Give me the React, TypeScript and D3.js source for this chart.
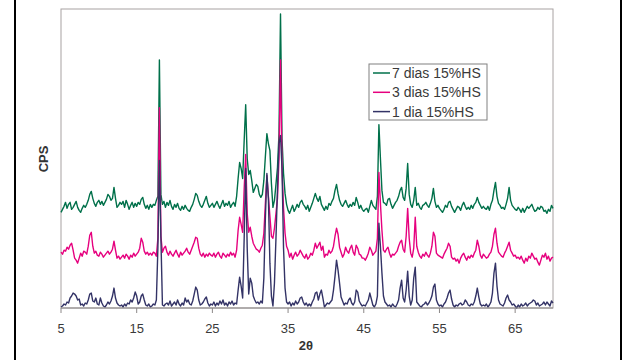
import React from "react";
import * as d3 from "d3";

// 2θ sampling grid (degrees), 0.2° step from 5 to 70
const angles: number[] = d3.range(326).map((i) => +(5 + i * 0.2).toFixed(1));

const ticks2Theta = [5, 15, 25, 35, 45, 55, 65];

const seriesNames = ["7 dias 15%HS", "3 dias 15%HS", "1 dia 15%HS"];

// intensities (CPS, offset traces), one row per 2°
const cps7dias: number[] = [
  96, 99, 102, 106, 100, 104, 106, 99, 101, 104,
  107, 101, 98, 96, 100, 103, 101, 104, 108, 114,
  117, 110, 105, 102, 106, 108, 104, 107, 103, 106,
  109, 114, 112, 108, 110, 121, 110, 101, 103, 106,
  104, 107, 101, 108, 104, 99, 103, 106, 101, 105,
  102, 106, 104, 109, 111, 104, 100, 103, 99, 104,
  101, 104, 103, 108, 112, 249, 114, 104, 107, 101,
  106, 103, 108, 102, 99, 104, 101, 105, 100, 98,
  102, 99, 103, 100, 98, 97, 101, 104, 109, 115,
  113, 107, 103, 101, 104, 108, 112, 105, 101, 103,
  105, 101, 104, 107, 103, 100, 104, 108, 102, 105,
  103, 107, 101, 104, 106, 102, 112, 130, 146, 140,
  130, 168, 204, 150, 134, 138, 128, 116, 120, 124,
  122, 114, 111, 114, 128, 152, 175, 165, 158, 125,
  101, 108, 124, 141, 175, 295, 170, 135, 115, 104,
  98, 95, 99, 103, 97, 100, 104, 101, 106, 108,
  104, 102, 99, 103, 97, 101, 105, 110, 115, 110,
  107, 112, 104, 101, 98, 102, 99, 105, 103, 107,
  110, 118, 124, 115, 108, 104, 102, 105, 108, 104,
  101, 104, 102, 106, 103, 111, 106, 100, 103, 99,
  97, 99, 100, 96, 102, 108, 103, 101, 99, 112,
  184, 150, 118, 106, 105, 103, 109, 110, 104, 100,
  103, 106, 108, 112, 118, 121, 111, 108, 120, 145,
  114, 104, 101, 108, 121, 103, 105, 101, 99, 103,
  104, 106, 103, 101, 105, 110, 120, 107, 101, 103,
  100, 98, 96, 99, 103, 101, 106, 107, 102, 99,
  96, 99, 102, 101, 98, 103, 106, 102, 99, 101,
  99, 103, 100, 104, 106, 111, 106, 103, 100, 102,
  100, 99, 102, 98, 104, 108, 118, 126, 112, 105,
  103, 100, 101, 99, 104, 110, 121, 108, 103, 101,
  99, 98, 101, 99, 96, 100, 96, 99, 102, 100,
  102, 104, 100, 97, 98, 101, 99, 102, 101, 97,
  98, 95, 99, 97, 103, 100,
];

const cps3dias: number[] = [
  56, 54, 58, 57, 61, 59, 63, 65, 58, 50,
  48, 45, 50, 55, 52, 57, 56, 54, 62, 73,
  76, 62, 55, 57, 53, 52, 56, 54, 51, 53,
  55, 57, 54, 56, 59, 67, 58, 50, 52, 49,
  51, 53, 50, 54, 52, 49, 53, 51, 55, 52,
  54, 56, 60, 70, 66, 57, 54, 56, 53, 55,
  53, 56, 55, 52, 70, 201, 72, 56, 60, 62,
  56, 53, 57, 54, 52, 55, 58, 54, 51, 56,
  53, 55, 57, 60, 56, 54, 58, 62, 66, 71,
  70, 60, 54, 52, 55, 51, 54, 52, 55, 53,
  52, 55, 51, 54, 56, 52, 50, 55, 53, 51,
  54, 52, 56, 53, 55, 51, 58, 78, 91, 84,
  76, 120, 154, 95, 76, 81, 72, 65, 62, 59,
  58, 56, 60, 63, 75, 105, 133, 112, 92, 72,
  70, 80, 95, 110, 150, 249, 140, 100, 75, 62,
  58, 51, 55, 49, 53, 56, 52, 54, 58, 55,
  52, 50, 54, 49, 51, 55, 53, 58, 65, 60,
  63, 66, 58, 62, 51, 54, 53, 58, 55, 57,
  62, 72, 80, 74, 61, 56, 51, 54, 61, 57,
  55, 60, 63, 56, 53, 63, 60, 54, 53, 50,
  50, 48, 51, 55, 61, 58, 53, 55, 57, 70,
  136, 105, 78, 58, 56, 59, 61, 55, 51, 54,
  53, 55, 57, 62, 66, 68, 59, 56, 72, 100,
  70, 55, 51, 60, 91, 62, 56, 52, 50, 54,
  52, 56, 53, 51, 55, 62, 76, 72, 55, 53,
  52, 51, 50, 54, 57, 60, 65, 62, 51, 49,
  50, 47, 49, 45, 50, 53, 55, 51, 48, 52,
  50, 53, 51, 55, 58, 68, 62, 53, 50, 54,
  52, 50, 51, 54, 56, 62, 74, 80, 65, 56,
  54, 52, 51, 55, 58, 62, 66, 58, 55, 52,
  53, 50, 51, 49, 52, 48, 45, 50, 47, 52,
  50, 55, 52, 49, 50, 46, 43, 48, 53, 51,
  55, 49, 52, 47, 50, 51,
];

const cps1dia: number[] = [
  1, 2, 4, 3, 6, 5, 10, 12, 15, 14,
  12, 8, 9, 3, 4, 2, 5, 4, 8, 14,
  15, 7, 6, 10, 4, 3, 10, 5, 2, 1,
  3, 6, 4, 7, 12, 20, 10, 5, 3, 2,
  3, 1, 4, 2, 5, 4, 8, 6, 10, 16,
  12, 4, 6, 12, 14, 8, 3, 2, 4, 1,
  2, 4, 3, 8, 60, 148, 70, 3, 2, 4,
  5, 3, 7, 2, 4, 6, 3, 8, 4, 2,
  5, 3, 10, 6, 8, 4, 3, 7, 14, 21,
  18, 8, 3, 4, 6, 9, 11, 5, 2, 4,
  3, 6, 2, 5, 3, 7, 4, 8, 3, 5,
  2, 6, 4, 7, 3, 5, 4, 18, 31, 22,
  10, 70, 140, 60, 14, 30, 25, 12, 8, 5,
  6, 4, 7, 5, 30, 90, 135, 110, 45, 12,
  2, 25, 70, 120, 165, 173, 140, 60, 20, 6,
  4, 6, 2, 5, 3, 7, 4, 6, 10, 11,
  6, 3, 5, 2, 4, 2, 6, 9, 15, 16,
  8, 14, 18, 10, 1, 3, 5, 4, 6, 8,
  18, 32, 48, 38, 25, 11, 7, 3, 5, 4,
  8, 10, 5, 3, 6, 18, 16, 7, 4, 2,
  3, 2, 5, 8, 15, 9, 3, 1, 4, 12,
  85, 62, 35, 12, 6, 4, 2, 3, 1, 4,
  2, 1, 4, 8, 20, 28, 10, 6, 18, 37,
  12, 3, 8, 30, 41, 6, 4, 2, 1, 3,
  4, 6, 3, 5, 8, 12, 21, 24, 8, 4,
  2, 3, 1, 4, 6, 10, 15, 18, 9, 3,
  1, 3, 2, 4, 5, 3, 4, 8, 6, 3,
  2, 4, 3, 6, 12, 20, 11, 4, 2, 3,
  2, 4, 1, 3, 6, 15, 35, 45, 22, 8,
  4, 3, 2, 5, 10, 13, 8, 6, 3, 4,
  2, 0, 3, 1, 4, 2, 3, 5, 2, 4,
  5, 6, 8, 7, 3, 5, 2, 3, 4, 6,
  3, 6, 4, 2, 7, 5,
];

const seriesColors = ["#00704a", "#e6007e", "#333366"];

const W = 625;
const H = 360;
const plot = { left: 61, right: 553, top: 9, bottom: 308 };

export default function App() {
  const x = d3.scaleLinear().domain([5, 70]).range([plot.left, plot.right]);
  const y = d3.scaleLinear().domain([0, 300]).range([plot.bottom, plot.top]);

  const line = d3
    .line<number>()
    .x((_, i) => x(angles[i]))
    .y((d) => y(d));

  const series = [cps7dias, cps3dias, cps1dia];
  const font = "'Liberation Sans', Arial, sans-serif";

  return (
    <svg
      width={W}
      height={H}
      style={{ position: "absolute", left: 0, top: 0, background: "#fff" }}
      fontFamily={font}
    >
      {/* outer chart frame sides */}
      <line x1={15} x2={15} y1={0} y2={H} stroke="#000" strokeWidth={2} />
      <line x1={621} x2={621} y1={0} y2={H} stroke="#000" strokeWidth={2} />

      {/* plot area border */}
      <rect
        x={plot.left}
        y={plot.top}
        width={plot.right - plot.left}
        height={plot.bottom - plot.top}
        fill="#fff"
        stroke="#a8a2a2"
        strokeWidth={1}
      />

      {/* traces */}
      <g fill="none" strokeWidth={1.4} strokeLinejoin="round">
        {series.map((s, k) => (
          <path key={k} d={line(s) ?? ""} stroke={seriesColors[k]} />
        ))}
      </g>

      {/* x axis */}
      <line
        x1={plot.left}
        x2={plot.right}
        y1={plot.bottom}
        y2={plot.bottom}
        stroke="#8c8888"
        strokeWidth={1.2}
      />
      {ticks2Theta.map((t) => (
        <g key={t}>
          <line
            x1={x(t)}
            x2={x(t)}
            y1={plot.bottom}
            y2={plot.bottom + 5}
            stroke="#8c8888"
          />
          <text
            x={x(t)}
            y={333}
            textAnchor="middle"
            fontSize={13}
            fill="#3a3a3a"
          >
            {t}
          </text>
        </g>
      ))}
      <text
        x={306}
        y={350}
        textAnchor="middle"
        fontSize={13}
        fontWeight="bold"
        fill="#333"
      >
        2θ
      </text>
      <text
        transform="translate(48,159) rotate(-90)"
        textAnchor="middle"
        fontSize={13}
        fontWeight="bold"
        fill="#333"
      >
        CPS
      </text>

      {/* legend */}
      <g>
        <rect
          x={369}
          y={64}
          width={118}
          height={56}
          fill="#fff"
          stroke="#808080"
          strokeWidth={1}
        />
        {seriesNames.map((name, k) => {
          const cy = 73 + k * 19.3;
          return (
            <g key={name}>
              <line
                x1={373}
                x2={390}
                y1={cy}
                y2={cy}
                stroke={seriesColors[k]}
                strokeWidth={1.5}
              />
              <text x={392} y={cy + 5} fontSize={14} fill="#3a3a3a">
                {name}
              </text>
            </g>
          );
        })}
      </g>
    </svg>
  );
}
